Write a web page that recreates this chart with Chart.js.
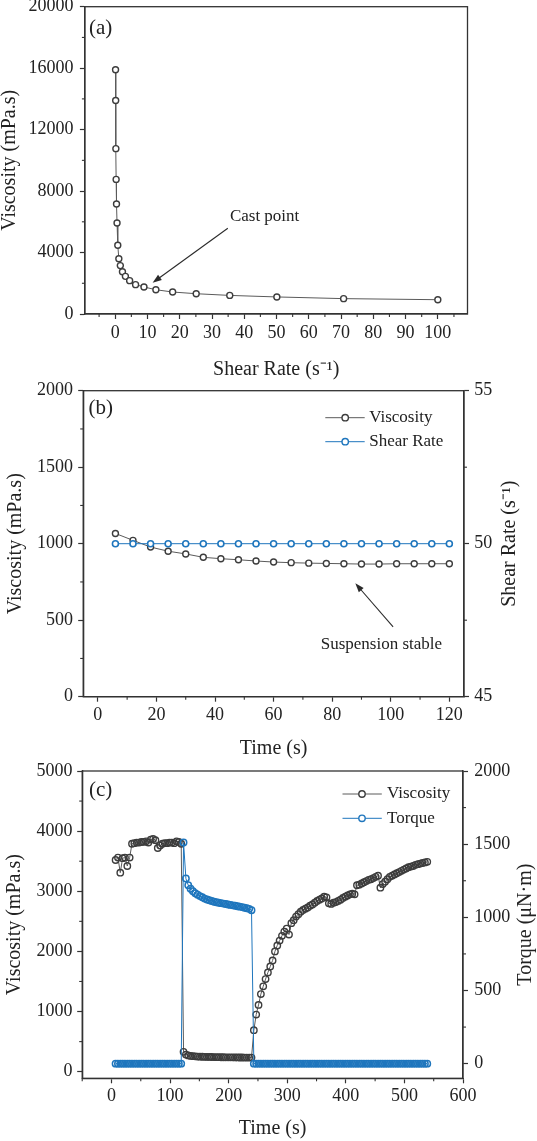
<!DOCTYPE html>
<html>
<head>
<meta charset="utf-8">
<script src="https://cdn.jsdelivr.net/npm/chart.js@4.4.1/dist/chart.umd.min.js"></script>
<style>
  html, body { margin: 0; padding: 0; background: #fff; }
  #wrap { position: relative; width: 537px; height: 1141px; overflow: hidden; }
  canvas { position: absolute; left: 0; }
</style>
</head>
<body>
<div id="wrap">
  <canvas id="chartA" width="537" height="385" style="top:0px;width:537px;height:385px"></canvas>
  <canvas id="chartB" width="537" height="390" style="top:380px;width:537px;height:390px"></canvas>
  <canvas id="chartC" width="537" height="379" style="top:762px;width:537px;height:379px"></canvas>
</div>
<script>
// ---- (a) flow curve ----
const SHEAR_A = [0.1, 0.141, 0.2, 0.282, 0.398, 0.562, 0.794, 1.12, 1.58, 2.24, 3.16,
                 4.47, 6.31, 8.91, 12.6, 17.8, 25.1, 35.5, 50.1, 70.8, 100];
const VISC_A = [15900, 13900, 10760, 8760, 7160, 5920, 4470, 3600, 3150, 2750, 2450,
                2170, 1910, 1760, 1580, 1430, 1320, 1210, 1110, 1000, 930];
const TICKS_A_X = [0, 10, 20, 30, 40, 50, 60, 70, 80, 90, 100];
const TICKS_A_Y = [0, 4000, 8000, 12000, 16000, 20000];

// ---- (b) constant shear ----
const TIME_B = [6, 12, 18, 24, 30, 36, 42, 48, 54, 60, 66, 72, 78, 84, 90, 96, 102, 108, 114, 120];
const VISC_B = [1067, 1022, 978, 951, 933, 911, 902, 895, 887, 880, 876, 873, 871, 869, 867, 867, 869, 869, 869, 869];
const SHEAR_B = [50, 50, 50, 50, 50, 50, 50, 50, 50, 50, 50, 50, 50, 50, 50, 50, 50, 50, 50, 50];
const TICKS_B_X = [0, 20, 40, 60, 80, 100, 120];
const TICKS_B_Y = [0, 500, 1000, 1500, 2000];
const TICKS_B_Y2 = [45, 50, 55];

// ---- (c) three interval thixotropy ----
const TIME_C = [
  7, 11, 15, 19, 23, 27, 31, 35, 39, 43, 47, 51, 55, 59, 63, 67, 71, 75, 79, 83, 87, 91, 95, 99, 103, 107, 111, 115, 119,
  123, 127, 131, 135, 139, 143, 147, 151, 155, 159, 163, 167, 171, 175, 179, 183, 187, 191, 195, 199, 203, 207, 211, 215, 219, 223, 227, 231, 235, 239,
  243, 247, 251, 255, 259, 263, 267, 271, 275, 279, 283, 287, 291, 295, 299, 303, 307, 311, 315, 319,
  323, 327, 331, 335, 339, 343, 347, 351, 355, 359, 363, 367, 371, 375, 379, 383, 387, 391, 395, 399,
  403, 407, 411, 415, 419, 423, 427, 431, 435, 439, 443, 447, 451, 455, 459, 463, 467, 471, 475, 479,
  483, 487, 491, 495, 499, 503, 507, 511, 515, 519, 523, 527, 531, 535, 539
];
const VISC_C = [
  3520, 3560, 3310, 3550, 3560, 3420, 3560, 3790, 3800, 3810, 3810, 3820, 3820, 3830, 3810, 3860, 3870, 3850, 3720, 3760, 3790, 3800, 3800, 3810, 3810, 3800, 3830, 3820, 3790,
  330, 285, 270, 262, 258, 255, 252, 250, 248, 247, 246, 245, 244, 243, 242, 241, 240, 240, 239, 239, 238, 238, 237, 237, 236, 236, 235, 235, 234, 234,
  690, 950, 1110, 1290, 1420, 1540, 1650, 1750, 1850, 2000, 2100, 2180, 2260, 2330, 2380, 2280, 2470, 2520, 2580, 2620,
  2660, 2690, 2710, 2730, 2760, 2780, 2810, 2840, 2860, 2880, 2910, 2900, 2800, 2790, 2810, 2820, 2840, 2860, 2890, 2910,
  2930, 2950, 2960, 2950, 3100, 3110, 3130, 3150, 3170, 3190, 3200, 3220, 3240, 3260, 3060, 3120, 3160, 3200, 3240, 3260,
  3280, 3300, 3320, 3340, 3360, 3380, 3400, 3410, 3420, 3440, 3450, 3460, 3470, 3480, 3490
];
const TORQUE_C = [
  0, 0, 0, 0, 0, 0, 0, 0, 0, 0, 0, 0, 0, 0, 0, 0, 0, 0, 0, 0, 0, 0, 0, 0, 0, 0, 0, 0, 0,
  1511, 1265, 1220, 1195, 1178, 1165, 1155, 1145, 1137, 1128, 1122, 1117, 1112, 1107, 1103, 1100, 1097, 1094, 1091, 1088, 1085, 1082, 1079, 1076, 1073, 1070, 1066, 1062, 1058, 1048,
  0, 0, 0, 0, 0, 0, 0, 0, 0, 0, 0, 0, 0, 0, 0, 0, 0, 0, 0, 0,
  0, 0, 0, 0, 0, 0, 0, 0, 0, 0, 0, 0, 0, 0, 0, 0, 0, 0, 0, 0,
  0, 0, 0, 0, 0, 0, 0, 0, 0, 0, 0, 0, 0, 0, 0, 0, 0, 0, 0, 0,
  0, 0, 0, 0, 0, 0, 0, 0, 0, 0, 0, 0, 0, 0, 0
];
const TICKS_C_X = [0, 100, 200, 300, 400, 500, 600];
const TICKS_C_Y = [0, 1000, 2000, 3000, 4000, 5000];
const TICKS_C_Y2 = [0, 500, 1000, 1500, 2000];

const FONT = '"Liberation Serif", "Times New Roman", serif';
const INK = '#222';
const AXIS = '#333';
const GREY = '#3d3d3d';
const GREY_LINE = '#5a5a5a';
const BLUE = '#1f76bd';

Chart.defaults.font.family = FONT;
Chart.defaults.color = INK;
Chart.defaults.animation = false;

function pairs(xs, ys) {
  return xs.map((x, i) => ({ x: x, y: ys[i] }));
}

// one linear axis, ticks set explicitly, box size fixed so plot areas line up with the figure
function makeAxis(c) {
  return {
    type: 'linear',
    position: c.position,
    min: c.min,
    max: c.max,
    afterBuildTicks: s => { s.ticks = c.ticks.map(v => ({ value: v })); },
    afterFit: s => {
      if (s.isHorizontal()) s.height = c.size; else s.width = c.size;
      s.paddingTop = 0; s.paddingBottom = 0; s.paddingLeft = 0; s.paddingRight = 0;
    },
    grid: { drawOnChartArea: false, drawTicks: true, tickLength: 5, tickWidth: 1.2, tickColor: AXIS },
    border: { display: true, color: AXIS, width: 1.3 },
    ticks: {
      padding: c.labelPad, font: { size: 18 }, color: INK,
      maxRotation: 0, autoSkip: false, callback: v => String(v)
    },
    title: c.title
      ? { display: true, text: c.title, color: INK, font: { size: 20, lineHeight: 1 }, padding: c.titlePad }
      : { display: false }
  };
}

function drawArrow(ctx, x1, y1, x2, y2) {
  const ang = Math.atan2(y2 - y1, x2 - x1), L = 9, W = 3.2;
  ctx.beginPath();
  ctx.moveTo(x1, y1);
  ctx.lineTo(x2 - L * 0.8 * Math.cos(ang), y2 - L * 0.8 * Math.sin(ang));
  ctx.stroke();
  ctx.beginPath();
  ctx.moveTo(x2, y2);
  ctx.lineTo(x2 - L * Math.cos(ang) + W * Math.sin(ang), y2 - L * Math.sin(ang) - W * Math.cos(ang));
  ctx.lineTo(x2 - L * Math.cos(ang) - W * Math.sin(ang), y2 - L * Math.sin(ang) + W * Math.cos(ang));
  ctx.closePath();
  ctx.fill();
}

// frame, minor ticks, panel tag, right-hand title, legend and annotation
function decor(cfg) {
  return {
    id: 'decor',
    afterDraw(chart) {
      const ctx = chart.ctx, a = chart.chartArea;
      ctx.save();
      ctx.strokeStyle = AXIS;
      ctx.lineWidth = 1.3;
      ctx.strokeRect(a.left, a.top, a.right - a.left, a.bottom - a.top);

      ctx.lineWidth = 1.1;
      Object.keys(cfg.minor).forEach(id => {
        const s = chart.scales[id];
        cfg.minor[id].forEach(v => {
          const p = s.getPixelForValue(v);
          ctx.beginPath();
          if (s.position === 'bottom') { ctx.moveTo(p, a.bottom); ctx.lineTo(p, a.bottom + 3); }
          else if (s.position === 'left') { ctx.moveTo(a.left, p); ctx.lineTo(a.left - 3, p); }
          else { ctx.moveTo(a.right, p); ctx.lineTo(a.right + 3, p); }
          ctx.stroke();
        });
      });

      ctx.fillStyle = INK;
      ctx.textBaseline = 'middle';
      ctx.textAlign = 'left';
      ctx.font = '21px ' + FONT;
      ctx.fillText(cfg.tag.text, cfg.tag.x, cfg.tag.y);

      if (cfg.rightTitle) {
        ctx.save();
        ctx.translate(cfg.rightTitle.x, (a.top + a.bottom) / 2);
        ctx.rotate(-Math.PI / 2);
        ctx.textAlign = 'center';
        ctx.font = '20px ' + FONT;
        ctx.fillText(cfg.rightTitle.text, 0, 0);
        ctx.restore();
      }

      if (cfg.legend) {
        const L = cfg.legend;
        ctx.font = '17px ' + FONT;
        L.order.forEach((di, row) => {
          const ds = chart.data.datasets[di], y = L.rows[row];
          ctx.strokeStyle = ds.borderColor;
          ctx.lineWidth = 1;
          ctx.beginPath(); ctx.moveTo(L.x1, y); ctx.lineTo(L.x2, y); ctx.stroke();
          ctx.fillStyle = '#fff';
          ctx.strokeStyle = ds.pointBorderColor;
          ctx.lineWidth = 1.4;
          ctx.beginPath(); ctx.arc(L.cx, y, 3.2, 0, Math.PI * 2); ctx.fill(); ctx.stroke();
          ctx.fillStyle = INK;
          ctx.fillText(ds.label, L.tx, y);
        });
      }

      if (cfg.note) {
        const n = cfg.note, sx = chart.scales.x, sy = chart.scales.y;
        ctx.font = '17px ' + FONT;
        ctx.textAlign = 'center';
        ctx.fillStyle = INK;
        ctx.fillText(n.text, sx.getPixelForValue(n.tx), sy.getPixelForValue(n.ty));
        ctx.strokeStyle = '#2a2a2a';
        ctx.fillStyle = '#2a2a2a';
        ctx.lineWidth = 1.1;
        drawArrow(ctx, sx.getPixelForValue(n.from[0]), sy.getPixelForValue(n.from[1]),
                  sx.getPixelForValue(n.to[0]), sy.getPixelForValue(n.to[1]));
      }
      ctx.restore();
    }
  };
}

const baseOptions = (padding, scales) => ({
  responsive: false,
  animation: false,
  events: [],
  layout: { padding: padding },
  plugins: { legend: { display: false }, tooltip: { enabled: false } },
  scales: scales
});

// (a)
new Chart(document.getElementById('chartA'), {
  type: 'line',
  data: {
    datasets: [{
      label: 'Viscosity',
      data: pairs(SHEAR_A, VISC_A),
      borderColor: GREY_LINE, borderWidth: 1, tension: 0,
      pointStyle: 'circle', pointRadius: 3, pointBorderWidth: 1.4,
      pointBackgroundColor: '#fff', pointBorderColor: GREY
    }]
  },
  options: baseOptions({ top: 6.7, right: 69.5, bottom: 0, left: 0 }, {
    x: makeAxis({ position: 'bottom', min: -9.4, max: 109.2, ticks: TICKS_A_X, size: 71, labelPad: 3.2,
                  title: 'Shear Rate (s\u207B\u00B9)', titlePad: { top: 0, bottom: 5 } }),
    y: makeAxis({ position: 'left', min: 0, max: 20000, ticks: TICKS_A_Y, size: 84.9, labelPad: 6.3,
                  title: 'Viscosity (mPa.s)', titlePad: { top: 0, bottom: 0 } })
  }),
  plugins: [decor({
    minor: { x: [-5, 5, 15, 25, 35, 45, 55, 65, 75, 85, 95, 105], y: [2000, 6000, 10000, 14000, 18000] },
    tag: { text: '(a)', x: 89, y: 28.3 },
    note: { text: 'Cast point', tx: 46.3, ty: 6333, from: [34.9, 5578], to: [11.6, 2037] }
  })]
});

// (b)
new Chart(document.getElementById('chartB'), {
  type: 'line',
  data: {
    datasets: [{
      label: 'Viscosity',
      data: pairs(TIME_B, VISC_B),
      yAxisID: 'y', order: 2,
      borderColor: GREY_LINE, borderWidth: 1, tension: 0,
      pointStyle: 'circle', pointRadius: 3, pointBorderWidth: 1.4,
      pointBackgroundColor: '#fff', pointBorderColor: GREY
    }, {
      label: 'Shear Rate',
      data: pairs(TIME_B, SHEAR_B),
      yAxisID: 'y2', order: 1,
      borderColor: BLUE, borderWidth: 1, tension: 0,
      pointStyle: 'circle', pointRadius: 3, pointBorderWidth: 1.6,
      pointBackgroundColor: '#fff', pointBorderColor: BLUE
    }]
  },
  options: baseOptions({ top: 10.7, right: 0, bottom: 0, left: 0 }, {
    x: makeAxis({ position: 'bottom', min: -5, max: 125, ticks: TICKS_B_X, size: 73.3, labelPad: 2.5,
                  title: 'Time (s)', titlePad: { top: 0, bottom: 11.7 } }),
    y: makeAxis({ position: 'left', min: 0, max: 2000, ticks: TICKS_B_Y, size: 83.2, labelPad: 5.3,
                  title: 'Viscosity (mPa.s)', titlePad: { top: 5.4, bottom: 0 } }),
    y2: makeAxis({ position: 'right', min: 45, max: 55, ticks: TICKS_B_Y2, size: 73, labelPad: 5.3 })
  }),
  plugins: [decor({
    minor: { x: [10, 30, 50, 70, 90, 110], y: [250, 750, 1250, 1750], y2: [47.5, 52.5] },
    tag: { text: '(b)', x: 88.4, y: 28.3 },
    rightTitle: { text: 'Shear Rate (s\u207B\u00B9)', x: 510 },
    legend: { order: [0, 1], rows: [37.7, 61.7], x1: 325.3, x2: 364.7, cx: 345.2, tx: 369.2 },
    note: { text: 'Suspension stable', tx: 96.8, ty: 344, from: [100.8, 457], to: [87.9, 741] }
  })]
});

// (c)
new Chart(document.getElementById('chartC'), {
  type: 'line',
  data: {
    datasets: [{
      label: 'Viscosity',
      data: pairs(TIME_C, VISC_C),
      yAxisID: 'y', order: 2,
      borderColor: GREY_LINE, borderWidth: 1, tension: 0,
      pointStyle: 'circle', pointRadius: 3.2, pointBorderWidth: 1.4,
      pointBackgroundColor: 'rgba(255,255,255,0)', pointBorderColor: GREY
    }, {
      label: 'Torque',
      data: pairs(TIME_C, TORQUE_C),
      yAxisID: 'y2', order: 1,
      borderColor: BLUE, borderWidth: 1, tension: 0,
      pointStyle: 'circle', pointRadius: 3.2, pointBorderWidth: 1.5,
      pointBackgroundColor: 'rgba(255,255,255,0)', pointBorderColor: BLUE
    }]
  },
  options: baseOptions({ top: 9, right: 0, bottom: 0, left: 0 }, {
    x: makeAxis({ position: 'bottom', min: -50, max: 600, ticks: TICKS_C_X, size: 62.7, labelPad: 2.6,
                  title: 'Time (s)', titlePad: { top: 0, bottom: 2.7 } }),
    y: makeAxis({ position: 'left', min: -110, max: 5000, ticks: TICKS_C_Y, size: 82.2, labelPad: 4.6,
                  title: 'Viscosity (mPa.s)', titlePad: { top: 4.6, bottom: 0 } }),
    y2: makeAxis({ position: 'right', min: -100, max: 2000, ticks: TICKS_C_Y2, size: 74, labelPad: 6.3 })
  }),
  plugins: [decor({
    minor: { x: [-50, 50, 150, 250, 350, 450, 550], y: [500, 1500, 2500, 3500, 4500], y2: [250, 750, 1250, 1750] },
    tag: { text: '(c)', x: 89, y: 28 },
    rightTitle: { text: 'Torque (\u03BCN\u00B7m)', x: 525.7 },
    legend: { order: [0, 1], rows: [32, 56.3], x1: 342.5, x2: 381.8, cx: 362, tx: 387 }
  })]
});
</script>
</body>
</html>
